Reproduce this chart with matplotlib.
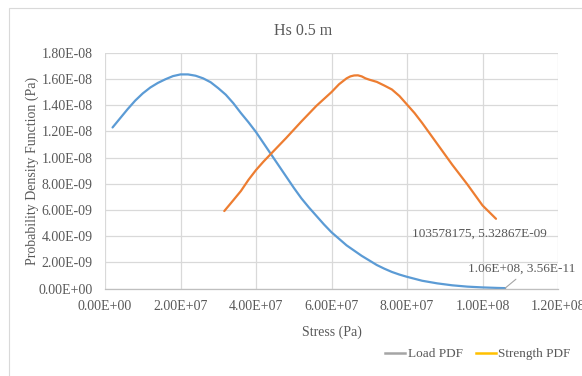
import matplotlib
matplotlib.use("Agg")
import matplotlib.pyplot as plt
from matplotlib.lines import Line2D
from matplotlib.patches import Rectangle
from matplotlib.ticker import FuncFormatter, MultipleLocator

plt.rcParams['font.family'] = ['Liberation Serif', 'DejaVu Serif']

title = "Hs 0.5 m"
xlabel = "Stress (Pa)"
ylabel = "Probability Density Function (Pa)"

# Load PDF (blue line)
load_x = [2e6, 4e6, 6e6, 8e6, 10e6, 12e6, 14e6, 16e6, 18e6, 20e6, 22e6, 24e6, 26e6,
          28e6, 30e6, 32e6, 34e6, 36e6, 38e6, 40e6, 42e6, 44e6, 46e6, 48e6, 50e6,
          52e6, 54e6, 56e6, 58e6, 60e6, 62e6, 64e6, 66e6, 68e6, 70e6, 72e6, 74e6,
          76e6, 78e6, 80e6, 84e6, 88e6, 92e6, 96e6, 100e6, 104e6, 1.06e8]
load_y = [12.3e-9, 13.0e-9, 13.7e-9, 14.35e-9, 14.9e-9, 15.35e-9, 15.7e-9, 15.98e-9,
          16.22e-9, 16.35e-9, 16.35e-9, 16.25e-9, 16.05e-9, 15.75e-9, 15.3e-9,
          14.8e-9, 14.15e-9, 13.4e-9, 12.7e-9, 11.95e-9, 11.1e-9, 10.25e-9, 9.4e-9,
          8.55e-9, 7.7e-9, 6.9e-9, 6.2e-9, 5.55e-9, 4.9e-9, 4.3e-9, 3.8e-9, 3.3e-9,
          2.9e-9, 2.5e-9, 2.15e-9, 1.8e-9, 1.52e-9, 1.27e-9, 1.07e-9, 0.9e-9, 0.6e-9,
          0.4e-9, 0.25e-9, 0.15e-9, 0.09e-9, 0.05e-9, 3.56e-11]

# Strength PDF (orange line)
strength_x = [31.6e6, 34e6, 36e6, 38e6, 40e6, 42e6, 44e6, 48e6, 52e6, 56e6, 60e6,
              62e6, 64e6, 65e6, 66e6, 67e6, 68e6, 69e6, 70e6, 72e6, 74e6, 76e6, 78e6,
              80e6, 82e6, 84e6, 86e6, 88e6, 90e6, 92e6, 94e6, 96e6, 98e6, 100e6,
              103578175]
strength_y = [5.92e-9, 6.75e-9, 7.45e-9, 8.3e-9, 9.05e-9, 9.7e-9, 10.3e-9, 11.5e-9,
              12.75e-9, 13.95e-9, 15.0e-9, 15.6e-9, 16.05e-9, 16.2e-9, 16.27e-9,
              16.28e-9, 16.2e-9, 16.05e-9, 15.95e-9, 15.78e-9, 15.5e-9, 15.2e-9,
              14.7e-9, 14.05e-9, 13.4e-9, 12.65e-9, 11.85e-9, 11.05e-9, 10.25e-9,
              9.45e-9, 8.7e-9, 7.95e-9, 7.15e-9, 6.35e-9, 5.32867e-9]

legend_labels = ["Load PDF", "Strength PDF"]

TXT = "#595959"
GRID = "#D9D9D9"

fig = plt.figure(figsize=(5.82, 3.76), dpi=100)
fig.patch.set_facecolor("white")
fig.patches.append(Rectangle((9 / 582, -0.1), 1.2, 1.1 - 8 / 376,
                             transform=fig.transFigure, fill=False,
                             edgecolor="#D9D9D9", linewidth=0.8))

ax = fig.add_axes([105 / 582, 1 - 288.6 / 376, (558 - 105) / 582, (288.6 - 52.8) / 376])
ax.set_xlim(0, 1.2e8)
ax.set_ylim(0, 1.8e-8)
ax.xaxis.set_major_locator(MultipleLocator(2e7))
ax.yaxis.set_major_locator(MultipleLocator(2e-9))
fmt = FuncFormatter(lambda v, p: "{:.2E}".format(v))
ax.xaxis.set_major_formatter(fmt)
ax.yaxis.set_major_formatter(fmt)
ax.grid(True, color=GRID, linewidth=0.9)
ax.set_axisbelow(True)
for s in ["top", "right", "left"]:
    ax.spines[s].set_visible(False)
ax.spines["bottom"].set_color("#BFBFBF")
ax.spines["bottom"].set_linewidth(0.9)
ax.tick_params(length=0, labelsize=10, colors=TXT, pad=9)
ax.tick_params(axis='x', pad=8)

ax.plot(load_x, load_y, color="#5B9BD5", linewidth=1.6, solid_capstyle="round",
        solid_joinstyle="round")
ax.plot(strength_x, strength_y, color="#ED7D31", linewidth=1.6, solid_capstyle="round",
        solid_joinstyle="round")

ax.annotate("{:.0f}, {:.5E}".format(strength_x[-1], strength_y[-1]),
            xy=(strength_x[-1], strength_y[-1]), xytext=(-12, -10.5),
            textcoords="offset points", ha="center", va="center",
            fontsize=9.5, color=TXT, annotation_clip=False)
ax.annotate("{:.2E}, {:.2E}".format(load_x[-1], load_y[-1]),
            xy=(load_x[-1], load_y[-1]), xytext=(11.7, 14),
            textcoords="offset points", ha="center", va="center",
            fontsize=9.5, color=TXT, annotation_clip=False,
            arrowprops=dict(arrowstyle="-", color="#A5A5A5", linewidth=0.8,
                            shrinkA=2, shrinkB=0, relpos=(0.5, 0.0)))

fig.text(303 / 582, 1 - 31 / 376, title, fontsize=11.5, color=TXT,
         ha="center", va="center")
ax.set_xlabel(xlabel, fontsize=10, color=TXT)
ax.xaxis.set_label_coords(0.5, -0.155)
ax.set_ylabel(ylabel, fontsize=10, color=TXT)
ax.yaxis.set_label_coords(-0.145, 0.5)

handles = [Line2D([], [], color="#A5A5A5", linewidth=1.8),
           Line2D([], [], color="#FFC000", linewidth=1.8)]
fig.legend(handles, legend_labels, loc="center", bbox_to_anchor=(478 / 582, 1 - 354 / 376),
           ncol=2, frameon=False, fontsize=9.5, handlelength=1.5, handletextpad=0.2,
           columnspacing=1.0, labelcolor=TXT)

fig.savefig("out.png", dpi=100)
